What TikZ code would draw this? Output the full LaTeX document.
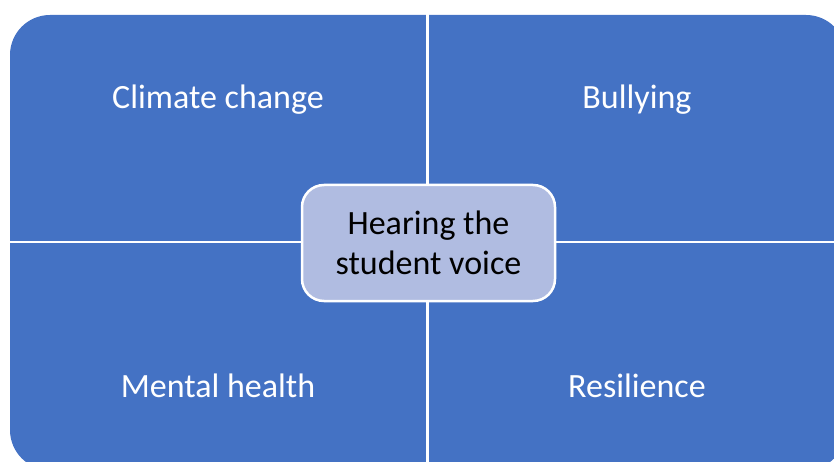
\documentclass[tikz,border=0pt]{standalone}
\usepackage{fontspec}
\setmainfont{Carlito}
\definecolor{quad}{RGB}{68,114,196}
\definecolor{hub}{RGB}{176,188,225}
\begin{document}
\begin{tikzpicture}[x=1pt,y=-1pt,
  lab/.style={text=white,font=\fontsize{34}{41}\selectfont,inner sep=0pt},
  hubbox/.style={draw=white,line width=2.5pt,fill=hub,rounded corners=22pt,
    minimum width=253pt,minimum height=116pt,align=center,
    font=\fontsize{34}{40}\selectfont,text=black,inner sep=0pt}]
\useasboundingbox (0,0) rectangle (834,462);
\clip (0,0) rectangle (834,462);
\fill[quad,rounded corners=40pt] (10,15) rectangle (846,470);
\draw[white,line width=3pt] (427.5,0) -- (427.5,470);
\draw[white,line width=2.5pt] (0,242) -- (846,242);
\node[lab] (cc) at (218,100) {Climate change};
\node[lab] (bu) at (637,100) {Bullying};
\node[lab] (mh) at (218,386) {Mental health};
\node[lab] (re) at (637,386) {Resilience};
\node[hubbox] (hub) at (428.5,243) {Hearing the\\student voice};
\end{tikzpicture}
\end{document}
